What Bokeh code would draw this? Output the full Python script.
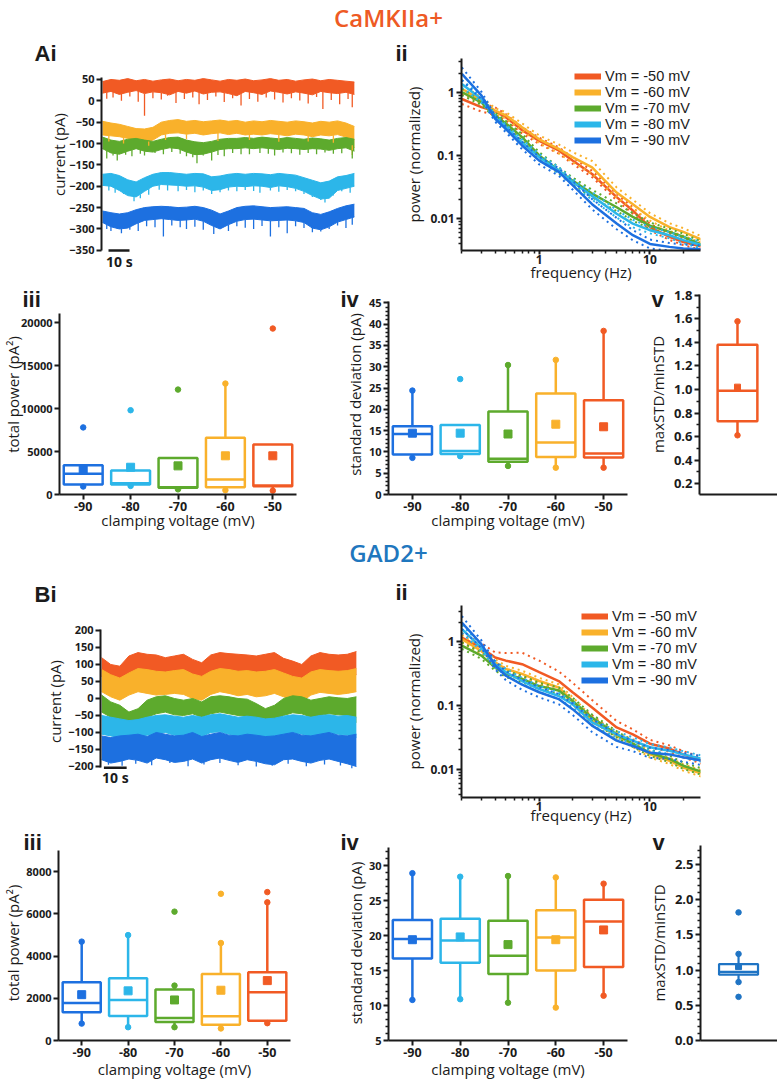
import numpy as np
from bokeh.plotting import figure
from bokeh.layouts import column, row
from bokeh.models import Div, FixedTicker, Legend, LegendItem, CustomJSTickFormatter
from bokeh.core.properties import value
from bokeh.embed import file_html
from bokeh.resources import INLINE

FONT = "Open Sans"
LEG_FONT = "Liberation Sans"
PANEL_FONT = "Liberation Sans"
INK = "#1b1b1b"
C50 = "#F15A24"
C60 = "#F9B12B"
C70 = "#5DAA2D"
C80 = "#2CB6E9"
C90 = "#1D70E0"
C_CAM = "#EE5A24"
C_GAD = "#1F77BE"
C_VB = "#1F74C4"

VOLTS = ["-90", "-80", "-70", "-60", "-50"]
XPOS = [0, 1, 2, 3, 4]
BOX_COLORS = [C90, C80, C70, C60, C50]
LEGEND_LABELS = ["Vm = -50 mV", "Vm = -60 mV", "Vm = -70 mV", "Vm = -80 mV", "Vm = -90 mV"]

# ---------------- Ai : example traces (CaMKIIa+), time in s, current in pA ----------------
TA = [0, 4, 8, 12, 16, 20, 24, 28, 32, 36, 40, 44, 48, 52, 56, 60, 64, 68, 72, 76, 80, 84, 88, 92, 96, 100, 104, 108, 112, 116, 120]
A50_UP = [45, 50, 48, 52, 47, 50, 46, 49, 51, 47, 50, 48, 52, 49, 46, 50, 48, 51, 47, 49, 52, 48, 50, 46, 49, 51, 47, 50, 48, 46, 44]
A50_LO = [18, 22, 15, 20, 24, 17, 21, 19, 14, 22, 18, 23, 16, 20, 21, 17, 12, 22, 19, 15, 23, 20, 16, 21, 18, 14, 22, 19, 17, 20, 15]
A60_UP = [-48, -52, -55, -60, -65, -66, -62, -50, -46, -44, -48, -46, -49, -47, -45, -48, -46, -50, -47, -49, -46, -48, -50, -47, -49, -52, -48, -50, -47, -52, -60]
A60_LO = [-80, -82, -84, -88, -95, -98, -92, -80, -76, -75, -78, -76, -80, -77, -75, -79, -76, -80, -78, -80, -77, -79, -82, -78, -80, -84, -80, -82, -79, -85, -110]
A70_UP = [-85, -92, -95, -90, -88, -92, -95, -90, -86, -85, -92, -96, -98, -95, -90, -88, -88, -86, -88, -85, -87, -89, -86, -88, -90, -87, -89, -92, -88, -86, -90]
A70_LO = [-112, -122, -125, -118, -112, -118, -120, -114, -110, -112, -120, -126, -125, -120, -114, -112, -112, -110, -112, -110, -112, -114, -111, -112, -114, -112, -113, -116, -112, -110, -118]
A80_UP = [-172, -170, -175, -185, -190, -180, -172, -168, -168, -170, -172, -170, -171, -178, -176, -172, -170, -172, -170, -171, -173, -170, -172, -174, -180, -186, -192, -188, -178, -175, -170]
A80_LO = [-198, -200, -210, -222, -225, -212, -200, -196, -197, -198, -200, -199, -202, -210, -208, -202, -200, -201, -199, -200, -203, -199, -201, -205, -212, -222, -230, -228, -210, -205, -200]
A90_UP = [-258, -262, -265, -262, -255, -250, -248, -247, -248, -250, -249, -247, -250, -256, -265, -258, -250, -247, -246, -248, -250, -249, -248, -250, -252, -262, -266, -260, -252, -246, -242]
A90_LO = [-285, -295, -300, -298, -288, -280, -278, -276, -278, -280, -279, -277, -282, -292, -300, -290, -282, -278, -277, -279, -281, -280, -279, -281, -285, -298, -302, -295, -284, -278, -272]
# downward synaptic events: time (s) and peak current (pA)
A50_SPK_T = [2, 5, 9, 13, 17, 20, 24, 28, 31, 35, 39, 43, 46, 50, 54, 58, 62, 66, 70, 74, 78, 82, 86, 90, 94, 98, 102, 105, 109, 113, 117, 119]
A50_SPK_Y = [5, 8, 0, 10, -2, -35, 6, 3, 12, -5, 4, 8, -8, 2, 10, -3, 6, -11, 4, -2, 8, 3, -4, 6, 1, -6, 9, -19, 2, -8, 4, -15]
A60_SPK_T = [3, 10, 22, 30, 40, 55, 70, 84, 98, 110, 119]
A60_SPK_Y = [-95, -100, -105, -92, -90, -94, -92, -96, -95, -98, -127]
A70_SPK_T = [2, 5, 7, 11, 14, 18, 20, 25, 29, 33, 37, 40, 43, 45, 48, 52, 55, 58, 62, 66, 70, 75, 79, 82, 86, 90, 94, 98, 102, 106, 110, 114, 119]
A70_SPK_Y = [-135, -128, -140, -126, -130, -124, -128, -122, -125, -120, -124, -130, -132, -146, -128, -140, -127, -130, -122, -125, -125, -122, -124, -128, -121, -123, -126, -122, -125, -121, -124, -123, -135]
A80_SPK_T = [3, 6, 10, 15, 18, 22, 27, 31, 36, 40, 44, 48, 52, 56, 60, 64, 68, 72, 75, 80, 84, 88, 92, 96, 100, 104, 106, 110, 114, 118]
A80_SPK_Y = [-210, -215, -218, -235, -228, -220, -208, -210, -212, -209, -214, -210, -218, -214, -210, -212, -209, -211, -215, -210, -213, -209, -212, -218, -225, -232, -238, -222, -212, -215]
A90_SPK_T = [2, 4, 7, 9, 13, 17, 21, 25, 29, 33, 37, 40, 44, 48, 53, 56, 60, 64, 68, 72, 76, 80, 84, 88, 92, 96, 100, 104, 108, 112, 116, 119]
A90_SPK_Y = [-300, -305, -298, -310, -302, -305, -294, -296, -318, -292, -296, -300, -295, -302, -312, -300, -305, -294, -297, -300, -293, -318, -296, -310, -294, -298, -308, -306, -300, -292, -298, -290]
A_YTICKS = [-350, -300, -250, -200, -150, -100, -50, 0, 50]

# ---------------- Bi : example traces (GAD2+) ----------------
TB = [0, 4, 8, 12, 16, 20, 24, 28, 32, 36, 40, 44, 48, 52, 56, 60, 64, 68, 72, 76, 80, 84, 88, 92, 96, 100, 104, 108, 112]
B50_UP = [120, 100, 95, 125, 135, 130, 128, 120, 125, 130, 115, 105, 128, 135, 132, 130, 128, 125, 130, 135, 118, 110, 100, 125, 135, 130, 128, 130, 138]
B50_LO = [65, 40, 30, 60, 68, 62, 55, 60, 62, 55, 40, 35, 58, 66, 55, 45, 58, 40, 45, 60, 45, 30, 25, 55, 62, 58, 55, 60, 70]
B60_UP = [85, 70, 60, 75, 88, 85, 80, 78, 82, 85, 72, 65, 80, 88, 85, 80, 82, 78, 80, 85, 75, 65, 60, 78, 85, 82, 80, 82, 88]
B60_LO = [20, 5, -5, 10, 20, 15, 10, 12, 15, 12, 0, -5, 12, 20, 15, 8, 12, 5, 8, 15, 5, -5, -10, 10, 18, 15, 12, 15, 20]
B70_UP = [10, -10, -20, -40, -30, -5, 5, 8, 0, -5, 0, -10, 5, 8, 5, 0, -2, -15, -30, -20, 0, 8, 5, -5, 0, 5, 2, 0, 5]
B70_LO = [-40, -55, -70, -95, -85, -55, -45, -40, -48, -50, -45, -55, -45, -40, -45, -50, -52, -65, -75, -68, -50, -42, -45, -55, -50, -45, -48, -50, -70]
B80_UP = [-50, -55, -60, -65, -62, -55, -50, -48, -52, -55, -50, -55, -48, -45, -50, -55, -52, -55, -60, -58, -52, -48, -50, -55, -50, -48, -52, -50, -55]
B80_LO = [-105, -110, -115, -118, -112, -108, -105, -100, -108, -110, -105, -112, -100, -98, -105, -110, -108, -110, -115, -112, -108, -100, -105, -110, -108, -100, -105, -108, -115]
B90_UP = [-110, -115, -110, -108, -105, -112, -100, -105, -110, -108, -100, -112, -105, -100, -108, -110, -105, -108, -112, -110, -105, -100, -108, -110, -105, -100, -108, -110, -105]
B90_LO = [-180, -190, -185, -178, -182, -190, -175, -180, -188, -185, -178, -190, -180, -175, -182, -188, -180, -185, -192, -195, -180, -178, -185, -190, -182, -178, -185, -192, -200]
B90_SPK_T = [3, 9, 15, 22, 30, 38, 45, 52, 60, 68, 75, 82, 90, 98, 105, 110]
B90_SPK_Y = [-195, -198, -192, -196, -190, -199, -194, -190, -196, -200, -198, -192, -199, -194, -197, -205]
B_YTICKS = [-200, -150, -100, -50, 0, 50, 100, 150, 200]

# ---------------- ii : normalized power spectra (mean, log10 s.e.m.) ----------------
FREQ = [0.2, 0.3, 0.4, 0.5, 0.7, 1, 1.5, 2, 3, 5, 7, 10, 15, 20, 30]
PA_50 = [0.78, 0.58, 0.50, 0.40, 0.25, 0.17, 0.12, 0.083, 0.051, 0.022, 0.0135, 0.0074, 0.0052, 0.0043, 0.0036]
PA_60 = [1.13, 0.74, 0.51, 0.43, 0.28, 0.18, 0.127, 0.094, 0.065, 0.026, 0.017, 0.0107, 0.0074, 0.0062, 0.0046]
PA_70 = [1.0, 0.69, 0.43, 0.32, 0.195, 0.10, 0.058, 0.040, 0.025, 0.0152, 0.0107, 0.0078, 0.0062, 0.0052, 0.0038]
PA_80 = [1.35, 0.78, 0.40, 0.28, 0.16, 0.094, 0.058, 0.038, 0.023, 0.012, 0.0084, 0.0066, 0.0055, 0.0046, 0.0038]
PA_90 = [1.95, 0.89, 0.38, 0.26, 0.144, 0.083, 0.055, 0.034, 0.017, 0.0084, 0.0055, 0.0040, 0.0036, 0.0034, 0.0033]
SA_50 = [0.08, 0.07, 0.06, 0.05, 0.05, 0.05, 0.05, 0.05, 0.05, 0.05, 0.05, 0.05, 0.05, 0.05, 0.05]
SA_60 = [0.06, 0.05, 0.04, 0.05, 0.06, 0.06, 0.07, 0.08, 0.10, 0.08, 0.07, 0.06, 0.06, 0.06, 0.05]
SA_70 = [0.05, 0.04, 0.04, 0.04, 0.05, 0.05, 0.05, 0.05, 0.06, 0.06, 0.06, 0.05, 0.05, 0.05, 0.05]
SA_80 = [0.06, 0.05, 0.04, 0.04, 0.05, 0.05, 0.05, 0.05, 0.06, 0.06, 0.06, 0.05, 0.05, 0.05, 0.05]
SA_90 = [0.10, 0.06, 0.05, 0.05, 0.06, 0.06, 0.06, 0.07, 0.08, 0.09, 0.08, 0.07, 0.06, 0.06, 0.06]
PB_50 = [1.15, 0.80, 0.56, 0.50, 0.44, 0.33, 0.24, 0.16, 0.092, 0.045, 0.035, 0.025, 0.021, 0.017, 0.0135]
PB_60 = [1.09, 0.71, 0.47, 0.37, 0.31, 0.24, 0.19, 0.117, 0.057, 0.033, 0.025, 0.017, 0.0135, 0.0106, 0.0084]
PB_70 = [0.86, 0.60, 0.39, 0.31, 0.26, 0.20, 0.17, 0.117, 0.064, 0.035, 0.025, 0.018, 0.0144, 0.0113, 0.009]
PB_80 = [1.56, 0.80, 0.44, 0.33, 0.24, 0.18, 0.14, 0.104, 0.054, 0.035, 0.028, 0.022, 0.0194, 0.017, 0.0144]
PB_90 = [1.98, 0.91, 0.42, 0.29, 0.21, 0.16, 0.125, 0.087, 0.048, 0.028, 0.023, 0.018, 0.017, 0.0153, 0.0135]
SB_50 = [0.07, 0.07, 0.08, 0.12, 0.18, 0.18, 0.15, 0.15, 0.12, 0.10, 0.08, 0.06, 0.05, 0.05, 0.05]
SB_60 = [0.06, 0.05, 0.05, 0.05, 0.05, 0.05, 0.05, 0.06, 0.06, 0.06, 0.05, 0.05, 0.05, 0.05, 0.05]
SB_70 = [0.05, 0.05, 0.05, 0.05, 0.05, 0.05, 0.05, 0.05, 0.05, 0.05, 0.05, 0.05, 0.05, 0.05, 0.05]
SB_80 = [0.06, 0.05, 0.05, 0.05, 0.05, 0.05, 0.05, 0.05, 0.05, 0.05, 0.05, 0.05, 0.05, 0.05, 0.05]
SB_90 = [0.10, 0.06, 0.06, 0.07, 0.08, 0.08, 0.08, 0.09, 0.10, 0.10, 0.08, 0.08, 0.07, 0.07, 0.07]

# ---------------- iii : total power (pA^2), order -90..-50 ----------------
A3_WLO = [930, 1000, 600, 500, 450]
A3_Q1 = [1160, 1160, 780, 850, 970]
A3_MED = [2400, 1300, 850, 1740, 1050]
A3_Q3 = [3400, 2800, 4250, 6600, 5800]
A3_WHI = [3400, 2800, 4250, 12900, 5800]
A3_MEAN = [2900, 3170, 3330, 4500, 4500]
A3_OUT_X = [0, 1, 2, 4]
A3_OUT_Y = [7800, 9800, 12200, 19300]
B3_WLO = [800, 630, 630, 570, 820]
B3_Q1 = [1340, 1165, 880, 740, 930]
B3_MED = [1780, 1920, 1070, 1150, 2280]
B3_Q3 = [2760, 2945, 2410, 3150, 3230]
B3_WHI = [4680, 4990, 2600, 4615, 6540]
B3_MEAN = [2170, 2350, 1920, 2380, 2835]
B3_OUT_X = [2, 3, 4]
B3_OUT_Y = [6100, 6945, 7025]

# ---------------- iv : standard deviation (pA) ----------------
A4_WLO = [8.6, 9.0, 6.7, 6.3, 6.3]
A4_Q1 = [9.4, 9.5, 7.7, 8.8, 8.7]
A4_MED = [14.2, 10.2, 8.4, 12.2, 9.6]
A4_Q3 = [16.0, 16.3, 19.5, 23.7, 22.1]
A4_WHI = [24.4, 16.3, 30.4, 31.6, 38.4]
A4_MEAN = [14.4, 14.4, 14.2, 16.5, 15.9]
A4_OUT_X = [1]
A4_OUT_Y = [27.1]
B4_WLO = [10.8, 10.9, 10.4, 9.7, 11.4]
B4_Q1 = [16.7, 16.1, 14.5, 15.0, 15.5]
B4_MED = [19.5, 19.3, 17.1, 19.7, 22.0]
B4_Q3 = [22.2, 22.4, 22.1, 23.6, 25.1]
B4_WHI = [28.9, 28.4, 28.5, 28.3, 27.4]
B4_MEAN = [19.4, 19.8, 18.7, 19.4, 20.8]

# ---------------- v : maxSTD / minSTD ----------------
A5_STATS = [0.61, 0.73, 0.99, 1.38, 1.58]   # whislo, q1, median, q3, whishi
A5_MEAN = [1.02]
B5_STATS = [0.83, 0.935, 0.976, 1.085, 1.23]
B5_MEAN = [1.05]
B5_OUT = [1.82, 0.62]


# ======================= helpers =======================
def make_fig(w, h, mbl, mbr, mbt, mbb, xr, yr, xtype="linear", ytype="linear", xloc="below"):
    p = figure(width=w, height=h, x_range=xr, y_range=yr, x_axis_type=xtype, y_axis_type=ytype,
               x_axis_location=xloc, output_backend="svg", toolbar_location=None,
               min_border_left=mbl, min_border_right=mbr, min_border_top=mbt, min_border_bottom=mbb)
    p.outline_line_color = None
    p.xgrid.grid_line_color = None
    p.ygrid.grid_line_color = None
    p.background_fill_color = "white"
    p.border_fill_color = "white"
    for ax in p.axis:
        ax.axis_line_width = 2
        ax.axis_line_color = INK
        ax.major_tick_line_width = 2
        ax.major_tick_line_color = INK
        ax.major_tick_out = 5
        ax.major_tick_in = 0
        ax.minor_tick_line_width = 1.5
        ax.minor_tick_line_color = INK
        ax.minor_tick_out = 3
        ax.minor_tick_in = 0
        ax.major_label_text_font = FONT
        ax.major_label_text_font_style = "bold"
        ax.major_label_text_font_size = "11px"
        ax.major_label_text_color = INK
        ax.major_label_standoff = 2
        ax.axis_label_text_font = FONT
        ax.axis_label_text_font_size = "15px"
        ax.axis_label_text_font_style = "normal"
        ax.axis_label_text_color = INK
    return p


def panel_label(p, text, left, frame_left, standoff):
    p.title.text = text
    p.title.align = "left"
    p.title.vertical_align = "bottom"
    p.title.offset = left - frame_left
    p.title.standoff = standoff
    p.title.text_font = PANEL_FONT
    p.title.text_font_size = "22px"
    p.title.text_font_style = "bold"
    p.title.text_color = INK


def y_label(p, text, standoff):
    p.yaxis.axis_label = text
    p.yaxis.axis_label_standoff = standoff


def x_label(p, text, standoff):
    p.xaxis.axis_label = text
    p.xaxis.axis_label_standoff = standoff


def draw_traces(p, t, bands, spikes):
    for col, up, lo in bands:
        p.varea(x=t, y1=lo, y2=up, fill_color=col)
        p.line(t, up, line_color=col, line_width=1)
        p.line(t, lo, line_color=col, line_width=1)
    for col, lo, st, sy in spikes:
        base = list(np.interp(st, t, lo))
        p.segment(x0=st, y0=base, x1=st, y1=sy, line_color=col, line_width=1.3)


def psd_panel(w, h, mbl, mbr, mbt, mbb, yr, series, legend_margin, xlab_standoff):
    p = make_fig(w, h, mbl, mbr, mbt, mbb, (0.1986, 28.6), yr, xtype="log", ytype="log")
    minors = [k * 10.0 ** e for e in (-3, -2, -1, 0, 1) for k in range(2, 10)]
    p.xaxis.ticker = FixedTicker(ticks=[1, 10], minor_ticks=minors)
    p.yaxis.ticker = FixedTicker(ticks=[0.01, 0.1, 1], minor_ticks=minors)
    p.xaxis.formatter = CustomJSTickFormatter(code="return String(tick);")
    p.yaxis.formatter = CustomJSTickFormatter(code="return String(tick);")
    p.xaxis.major_label_text_font_size = "12px"
    p.yaxis.major_label_text_font_size = "12px"
    p.xaxis.major_tick_out = 4
    p.xaxis.major_label_standoff = 0
    for col, m, s in series:
        up = [v * 10 ** e for v, e in zip(m, s)]
        lo = [v / 10 ** e for v, e in zip(m, s)]
        p.line(FREQ, up, line_color=col, line_width=2, line_dash="dotted")
        p.line(FREQ, lo, line_color=col, line_width=2, line_dash="dotted")
        p.line(FREQ, m, line_color=col, line_width=2.5)
    proxies = [p.line(FREQ, m, line_color=col, line_width=6, visible=False) for col, m, s in series]
    items = [LegendItem(label=t, renderers=[r]) for t, r in zip(LEGEND_LABELS, proxies)]
    leg = Legend(items=items, location="top_right", glyph_width=27, glyph_height=14, label_height=14,
                 spacing=0, padding=0, margin=legend_margin, label_standoff=4, border_line_color=None,
                 background_fill_alpha=0, inactive_fill_alpha=0, label_text_font=LEG_FONT,
                 label_text_font_size="14.5px", label_text_color=INK)
    p.add_layout(leg)
    y_label(p, "power (normalized)", 3)
    x_label(p, "frequency (Hz)", xlab_standoff)
    return p


def draw_boxes(p, xs, colors, wlo, q1, med, q3, whi, mean, bw, msize=8, lw=2.5):
    left = [x - bw / 2 for x in xs]
    right = [x + bw / 2 for x in xs]
    p.quad(left=left, right=right, bottom=q1, top=q3, fill_color=None, line_color=colors, line_width=lw)
    p.segment(x0=left, y0=med, x1=right, y1=med, line_color=colors, line_width=lw)
    p.segment(x0=xs, y0=q3, x1=xs, y1=whi, line_color=colors, line_width=lw)
    p.segment(x0=xs, y0=q1, x1=xs, y1=wlo, line_color=colors, line_width=lw)
    hi_i = [i for i in range(len(xs)) if whi[i] > q3[i]]
    lo_i = [i for i in range(len(xs)) if wlo[i] < q1[i]]
    p.scatter([xs[i] for i in hi_i], [whi[i] for i in hi_i], marker="circle", size=5.5,
              color=[colors[i] for i in hi_i])
    p.scatter([xs[i] for i in lo_i], [wlo[i] for i in lo_i], marker="circle", size=5.5,
              color=[colors[i] for i in lo_i])
    p.scatter(xs, mean, marker="square", size=msize, color=colors)


def box_fig(w, h, mbl, mbr, mbt, mbb, yr, ybounds, yticks, yminor):
    p = make_fig(w, h, mbl, mbr, mbt, mbb, (-0.5, 4.5), yr)
    p.yaxis.bounds = ybounds
    p.xaxis.ticker = FixedTicker(ticks=XPOS)
    p.xaxis.major_label_overrides = {x: v for x, v in zip(XPOS, VOLTS)}
    p.xaxis.major_label_text_font_size = "12.5px"
    p.yaxis.ticker = FixedTicker(ticks=yticks, minor_ticks=yminor)
    return p


def ratio_fig(w, h, mbl, mbr, mbt, mbb, yr, yticks, yminor):
    p = make_fig(w, h, mbl, mbr, mbt, mbb, (0, 1), yr)
    p.xaxis.ticker = FixedTicker(ticks=[])
    p.yaxis.ticker = FixedTicker(ticks=yticks, minor_ticks=yminor)
    p.yaxis.formatter = CustomJSTickFormatter(code="return tick.toFixed(1);")
    p.yaxis.major_label_text_font_size = "13px"
    return p


def title_div(text, color, h):
    return Div(text=text, width=777, height=h, margin=(0, 0, 0, 0),
               styles={"font-family": FONT, "font-size": "24px", "font-weight": "600",
                       "color": color, "text-align": "center", "width": "777px",
                       "line-height": f"{h}px"})


# ======================= CaMKIIa+ =======================
# row A1 (y 36-286): frames from y=58 to y=250
pA = make_fig(380, 250, 101, 23, 22, 36, (-0.5, 121.5), (-350.5, 99.1))
pA.yaxis.bounds = (-350, 55)
pA.yaxis.ticker = FixedTicker(ticks=A_YTICKS)
pA.xaxis.bounds = (3, 13)                       # 10 s scale bar
pA.xaxis.ticker = FixedTicker(ticks=[8])
pA.xaxis.major_label_overrides = {8: "10 s"}
pA.xaxis.major_tick_out = 0
pA.xaxis.major_tick_line_color = None
pA.xaxis.axis_line_width = 2.5
pA.xaxis.major_label_text_font_size = "14px"
pA.xaxis.major_label_standoff = 1
draw_traces(pA, TA,
            [(C50, A50_UP, A50_LO), (C60, A60_UP, A60_LO), (C70, A70_UP, A70_LO),
             (C80, A80_UP, A80_LO), (C90, A90_UP, A90_LO)],
            [(C50, A50_LO, A50_SPK_T, A50_SPK_Y), (C60, A60_LO, A60_SPK_T, A60_SPK_Y),
             (C70, A70_LO, A70_SPK_T, A70_SPK_Y), (C80, A80_LO, A80_SPK_T, A80_SPK_Y),
             (C90, A90_LO, A90_SPK_T, A90_SPK_Y)])
y_label(pA, "current (pA)", -3)
panel_label(pA, "Ai", 34, 101, -15)

pPA = psd_panel(397, 250, 81, 77, 22, 36, (0.003155, 3.40),
                [(C50, PA_50, SA_50), (C60, PA_60, SA_60), (C70, PA_70, SA_70),
                 (C80, PA_80, SA_80), (C90, PA_90, SA_90)], 10, -5)
panel_label(pPA, "ii", 395, 461, -15)

# row A2 (y 286-538): frames from y=294 to y=494
p3A = box_fig(330, 252, 55, 34, 8, 44, (0, 23256), (0, 21047), [0, 5000, 10000, 15000, 20000], [])
draw_boxes(p3A, XPOS, BOX_COLORS, A3_WLO, A3_Q1, A3_MED, A3_Q3, A3_WHI, A3_MEAN, 0.82)
p3A.scatter(A3_OUT_X, A3_OUT_Y, marker="circle", size=5.5, color=[BOX_COLORS[i] for i in A3_OUT_X])
y_label(p3A, "total power (pA²)", -5)
x_label(p3A, "clamping voltage (mV)", -4)
panel_label(p3A, "iii", 18, 55, -34)

p4A = box_fig(310, 252, 58, 13, 8, 44, (0, 46.95), (0, 45.3), [0, 5, 10, 15, 20, 25, 30, 35, 40, 45],
              [k for k in range(46) if k % 5])
draw_boxes(p4A, XPOS, BOX_COLORS, A4_WLO, A4_Q1, A4_MED, A4_Q3, A4_WHI, A4_MEAN, 0.82)
p4A.scatter(A4_OUT_X, A4_OUT_Y, marker="circle", size=5.5, color=[BOX_COLORS[i] for i in A4_OUT_X])
y_label(p4A, "standard deviation (pA)", 1)
x_label(p4A, "clamping voltage (mV)", -4)
panel_label(p4A, "iv", 340, 388, -34)

p5A = ratio_fig(137, 252, 59, 0, 8, 44, (0.1064, 1.8085), [0.2, 0.4, 0.6, 0.8, 1.0, 1.2, 1.4, 1.6, 1.8],
                [0.3, 0.5, 0.7, 0.9, 1.1, 1.3, 1.5, 1.7])
draw_boxes(p5A, [0.487], [C50], [A5_STATS[0]], [A5_STATS[1]], [A5_STATS[2]], [A5_STATS[3]],
           [A5_STATS[4]], A5_MEAN, 0.51, msize=6)
y_label(p5A, "maxSTD/minSTD", 3)
panel_label(p5A, "v", 651, 699, -34)

# ======================= GAD2+ =======================
# row B1 (y 568-829): frames from y=605 to y=797
pB = make_fig(380, 261, 100, 23, 37, 32, (-0.5, 112.5), (-291.2, 273.5), xloc=None)
pB.yaxis.bounds = (-203, 203)
pB.yaxis.ticker = FixedTicker(ticks=B_YTICKS)
draw_traces(pB, TB,
            [(C50, B50_UP, B50_LO), (C60, B60_UP, B60_LO), (C70, B70_UP, B70_LO),
             (C80, B80_UP, B80_LO), (C90, B90_UP, B90_LO)],
            [(C90, B90_LO, B90_SPK_T, B90_SPK_Y)])
pB.line([1, 11], [-204, -204], line_color=INK, line_width=2.5)     # 10 s scale bar
pB.text(x=[6], y=[-232], text=["10 s"], text_align="center", text_baseline="middle",
        text_font=value(FONT), text_font_size="14px", text_font_style="bold", text_color=INK)
y_label(pB, "current (pA)", 0)
panel_label(pB, "Bi", 34, 100, -3)

pPB = psd_panel(397, 261, 81, 77, 37, 32, (0.00359, 3.66),
                [(C50, PB_50, SB_50), (C60, PB_60, SB_60), (C70, PB_70, SB_70),
                 (C80, PB_80, SB_80), (C90, PB_90, SB_90)], 3, -9)
panel_label(pPB, "ii", 395, 461, 2)

# row B2 (y 829-1084): frames from y=845 to y=1040
p3B = box_fig(330, 255, 53, 40, 16, 44, (0, 9231), (0, 8994), [0, 2000, 4000, 6000, 8000], [])
draw_boxes(p3B, XPOS, BOX_COLORS, B3_WLO, B3_Q1, B3_MED, B3_Q3, B3_WHI, B3_MEAN, 0.82)
p3B.scatter(B3_OUT_X, B3_OUT_Y, marker="circle", size=5.5, color=[BOX_COLORS[i] for i in B3_OUT_X])
y_label(p3B, "total power (pA²)", 0)
x_label(p3B, "clamping voltage (mV)", -1)
panel_label(p3B, "iii", 18, 53, -18)

p4B = box_fig(310, 255, 58, 13, 16, 44, (5.0, 32.86), (5, 32.6), [5, 10, 15, 20, 25, 30],
              [k for k in range(6, 33) if k % 5])
draw_boxes(p4B, XPOS, BOX_COLORS, B4_WLO, B4_Q1, B4_MED, B4_Q3, B4_WHI, B4_MEAN, 0.82)
y_label(p4B, "standard deviation (pA)", 0)
x_label(p4B, "clamping voltage (mV)", -1)
panel_label(p4B, "iv", 340, 388, -18)

p5B = ratio_fig(137, 255, 60, 0, 16, 44, (0, 2.77), [0.0, 0.5, 1.0, 1.5, 2.0, 2.5],
                [0.1, 0.2, 0.3, 0.4, 0.6, 0.7, 0.8, 0.9, 1.1, 1.2, 1.3, 1.4, 1.6, 1.7, 1.8, 1.9,
                 2.1, 2.2, 2.3, 2.4, 2.6, 2.7])
draw_boxes(p5B, [0.494], [C_VB], [B5_STATS[0]], [B5_STATS[1]], [B5_STATS[2]], [B5_STATS[3]],
           [B5_STATS[4]], B5_MEAN, 0.506, msize=6, lw=2.2)
p5B.scatter([0.494] * len(B5_OUT), B5_OUT, marker="circle", size=5.5, color=C_VB)
y_label(p5B, "maxSTD/minSTD", 3)
panel_label(p5B, "v", 652, 700, -18)

layout = column(
    title_div("CaMKIIa+", C_CAM, 36),
    row(pA, pPA),
    row(p3A, p4A, p5A),
    title_div("GAD2+", C_GAD, 30),
    row(pB, pPB),
    row(p3B, p4B, p5B),
)

open("out.html", "w").write(file_html(layout, INLINE))
